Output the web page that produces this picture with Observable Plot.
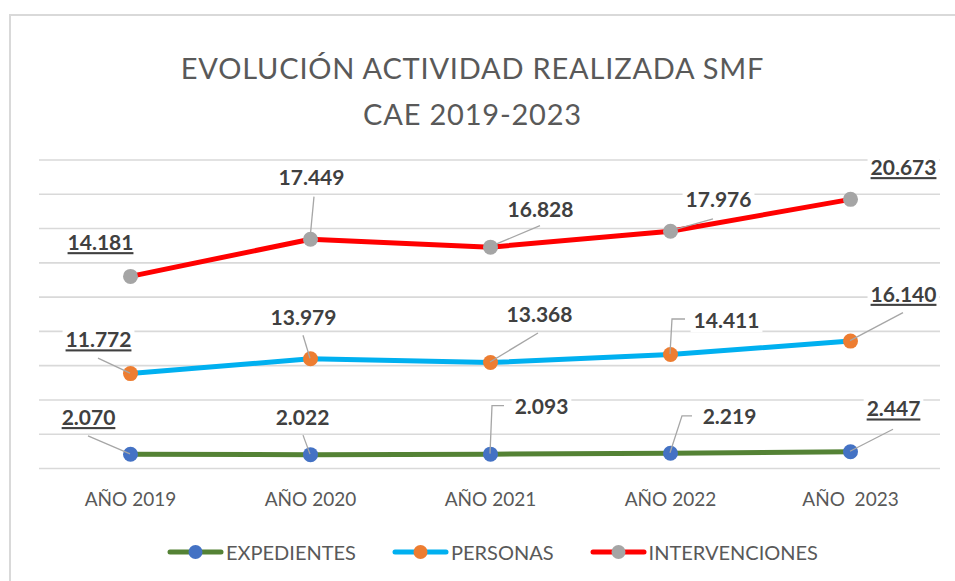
<!DOCTYPE html>
<html>
<head>
<meta charset="utf-8">
<script src="https://cdn.jsdelivr.net/npm/d3@7"></script>
<script src="https://cdn.jsdelivr.net/npm/@observablehq/plot@0.6"></script>
<style>
  html, body { margin: 0; padding: 0; background: #fff; width: 955px; height: 581px; overflow: hidden; }
  body { position: relative; font-family: Lato, "Open Sans", sans-serif; }
  #frame { position: absolute; left: 9px; top: 14px; width: 1000px; height: 620px; border: 2px solid #d9d9d9; box-sizing: border-box; }
  #title { position: absolute; left: 0; top: 45px; width: 945px; text-align: center; color: #595959; font-size: 29px; letter-spacing: 0.8px; line-height: 46px; }
  #chart { position: absolute; left: 0; top: 140px; }
  #legend { position: absolute; left: 167px; top: 540px; display: flex; align-items: center; color: #595959; font-size: 20px; }
  .item { display: flex; align-items: center; margin-right: 36px; }
  .item svg { margin-right: 2px; }
</style>
</head>
<body>
<div id="frame"></div>
<div id="title">EVOLUCIÓN ACTIVIDAD REALIZADA SMF<br>CAE 2019-2023</div>
<div id="chart"></div>
<div id="legend"></div>
<script>
// ---- data ----
const years = ["AÑO 2019", "AÑO 2020", "AÑO 2021", "AÑO 2022", "AÑO \u00a02023"];
const seriesNames = ["EXPEDIENTES", "PERSONAS", "INTERVENCIONES"];
const expedientes = [2070, 2022, 2093, 2219, 2447];
const personas = [11772, 13979, 13368, 14411, 16140];
const intervenciones = [14181, 17449, 16828, 17976, 20673];
const yTicks = [0, 5000, 10000, 15000, 20000, 25000, 30000, 35000, 40000, 45000];

// ---- styles ----
const lineColors = ["#548235", "#00B0F0", "#FF0000"];
const markerColors = ["#4472C4", "#ED7D31", "#A5A5A5"];

// label layout: [dx, dy, leader offsets (pixels from point), underline]
const labelLayout = [
  [[-42, -36, [[-42, -18]], true], [-8, -36, [[-7, -19]], false], [51, -47, [[14, -48], [2, -48]], false], [59, -36, [[22, -37], [12, -37]], false], [43, -42, [[43, -22]], true]],
  [[-32, -33, [[-32, -15]], true], [-7, -41, [[-7, -23]], false], [49, -47, [[48, -29]], false], [56, -33, [[15, -35], [2, -35]], false], [53, -46, [[53, -28]], true]],
  [[-30, -33, null, true], [1, -61, [[4, -42]], false], [50, -37, [[50, -21]], false], [48, -31, [[43, -12]], false], [53, -31, null, true]]
];

const seriesValues = [expedientes, personas, intervenciones];
const fmt = v => d3.format(",")(v).replace(/,/g, ".");

// build stacked rows
const rows = [];
const cum = years.map(() => 0);
seriesNames.forEach((s, i) => {
  seriesValues[i].forEach((v, j) => {
    cum[j] += v;
    const L = labelLayout[i][j];
    rows.push({series: s, si: i, year: years[j], value: v, top: cum[j], label: fmt(v), dx: L[0], dy: L[1], leader: L[2], underline: L[3]});
  });
});

const marks = [Plot.ruleY(yTicks, {stroke: "#d9d9d9", strokeWidth: 1.6})];
seriesNames.forEach((s, i) => {
  marks.push(Plot.line(rows.filter(r => r.si === i), {x: "year", y: "top", stroke: lineColors[i], strokeWidth: 5, strokeLinecap: "round", strokeLinejoin: "round"}));
});
seriesNames.forEach((s, i) => {
  marks.push(Plot.dot(rows.filter(r => r.si === i), {x: "year", y: "top", r: 7.5, fill: markerColors[i], stroke: null}));
});
// leader lines drawn in pixel space from the plot's own scales
marks.push((index, scales) => {
  const g = d3.create("svg:g").attr("fill", "none").attr("stroke", "#a6a6a6").attr("stroke-width", 1.3);
  if (!scales || typeof scales.x !== "function") return g.node();
  for (const r of rows) {
    if (!r.leader) continue;
    const px = scales.x(r.year), py = scales.y(r.top);
    const pts = r.leader.map(([a, b]) => [px + a, py + b]).concat([[px, py]]);
    g.append("path").attr("d", d3.line()(pts));
  }
  return g.node();
});
rows.forEach(r => {
  marks.push(Plot.text([r], {x: "year", y: "top", text: "label", dx: r.dx, dy: r.dy, fill: "#404040", fontSize: 21, fontWeight: "bold"}));
});

const plot = Plot.plot({
  width: 955,
  height: 380,
  marginTop: 19.5,
  marginBottom: 52,
  marginLeft: 39,
  marginRight: 15,
  style: {fontFamily: "Lato, 'Open Sans', sans-serif", fontSize: "19px", color: "#595959", background: "transparent"},
  x: {type: "point", domain: years, padding: 0.5, tickSize: 0, tickPadding: 24, label: null},
  y: {domain: [0, 45000], axis: null},
  marks
});
document.getElementById("chart").appendChild(plot);

// white boxes behind data labels, underline first/last
const labelSet = new Set(rows.map(r => r.label));
const under = new Set(rows.filter(r => r.underline).map(r => r.label));
d3.select(plot).selectAll("text").filter(function() { return labelSet.has(this.textContent); })
  .each(function() {
    const b = this.getBBox();
    const rect = document.createElementNS("http://www.w3.org/2000/svg", "rect");
    rect.setAttribute("x", b.x - 3);
    rect.setAttribute("y", b.y + 1);
    rect.setAttribute("width", b.width + 6);
    rect.setAttribute("height", b.height - 1);
    rect.setAttribute("fill", "white");
    const t = this.getAttribute("transform");
    if (t) rect.setAttribute("transform", t);
    this.parentNode.insertBefore(rect, this);
    if (under.has(this.textContent)) this.style.textDecoration = "underline";
  });

// legend
const legend = d3.select("#legend");
seriesNames.forEach((s, i) => {
  const it = legend.append("div").attr("class", "item");
  const sv = it.append("svg").attr("width", 57).attr("height", 18);
  sv.append("line").attr("x1", 3).attr("x2", 54).attr("y1", 9).attr("y2", 9).attr("stroke", lineColors[i]).attr("stroke-width", 5).attr("stroke-linecap", "round");
  sv.append("circle").attr("cx", 28.5).attr("cy", 9).attr("r", 7).attr("fill", markerColors[i]);
  it.append("span").text(s);
});
</script>
</body>
</html>
